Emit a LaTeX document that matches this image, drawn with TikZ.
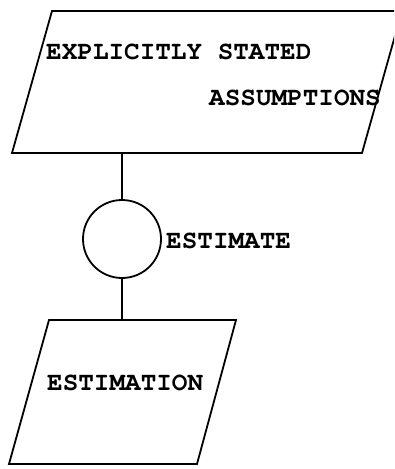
\documentclass[tikz,border=0pt]{standalone}
\usepackage[T1]{fontenc}
\begin{document}
\begin{tikzpicture}[x=1pt,y=-1pt,
  outline/.style={line width=1.8pt,line join=miter},
  label/.style={font=\fontfamily{pcr}\fontseries{b}\fontsize{26}{30}\selectfont,inner sep=0pt,anchor=base west},
  joint/.style={circle,draw,line width=1.8pt,minimum size=78pt,inner sep=0pt}]
\useasboundingbox (0,0) rectangle (394,469);
\clip (0,0) rectangle (394,469);
% upper input parallelogram
\coordinate (a1) at (52,11);
\coordinate (a2) at (402,11);
\coordinate (a3) at (362,153);
\coordinate (a4) at (12,153);
\draw[outline] (a1) -- (a2) -- (a3) -- (a4) -- cycle;
\coordinate (aout) at (122,153);
\node[label] (t1) at (46,59) {EXPLICITLY STATED};
\node[label] (t2) at (209,105) {ASSUMPTIONS};
% process circle
\node[joint] (est) at (122,239) {};
\node[label] (t3) at (166,248) {ESTIMATE};
% lower output parallelogram
\coordinate (b1) at (49,320);
\coordinate (b2) at (236,320);
\coordinate (b3) at (197,464);
\coordinate (b4) at (9,464);
\draw[outline] (b1) -- (b2) -- (b3) -- (b4) -- cycle;
\coordinate (bin) at (122,320);
\node[label] (t4) at (47,390) {ESTIMATION};
% connectors
\draw[outline] (aout) -- (est.north);
\draw[outline] (est.south) -- (bin);
\end{tikzpicture}
\end{document}
